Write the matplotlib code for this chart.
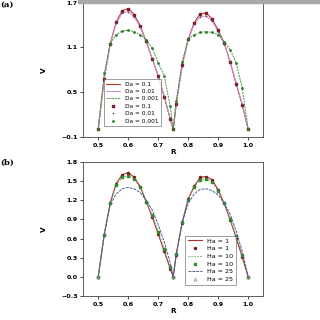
import matplotlib.pyplot as plt
import matplotlib.patches as mpatches

R = [0.50, 0.52, 0.54, 0.56, 0.58, 0.60, 0.62, 0.64, 0.66, 0.68, 0.70, 0.72, 0.74, 0.75,
     0.76, 0.78, 0.80, 0.82, 0.84, 0.86, 0.88, 0.90, 0.92, 0.94, 0.96, 0.98, 1.00]

# (a) Darcy number
v_da01 = [0.0, 0.68, 1.15, 1.44, 1.59, 1.62, 1.54, 1.39, 1.18, 0.95, 0.72, 0.44, 0.14, 0.0,
          0.34, 0.86, 1.21, 1.43, 1.55, 1.56, 1.48, 1.33, 1.16, 0.90, 0.61, 0.33, 0.0]
v_da001 = [0.0, 0.68, 1.14, 1.42, 1.56, 1.58, 1.51, 1.37, 1.17, 0.95, 0.72, 0.45, 0.15, 0.0,
           0.34, 0.85, 1.20, 1.41, 1.51, 1.52, 1.45, 1.31, 1.15, 0.90, 0.62, 0.34, 0.0]
v_da0001 = [0.0, 0.75, 1.15, 1.27, 1.32, 1.33, 1.31, 1.27, 1.20, 1.09, 0.89, 0.72, 0.31, 0.0,
            0.38, 0.91, 1.21, 1.27, 1.30, 1.31, 1.30, 1.27, 1.17, 1.07, 0.89, 0.56, 0.0]

# (b) Hartmann number
v_ha1 = [0.0, 0.65, 1.16, 1.46, 1.60, 1.63, 1.56, 1.41, 1.18, 0.94, 0.67, 0.40, 0.13, 0.0,
         0.34, 0.85, 1.22, 1.42, 1.56, 1.57, 1.52, 1.36, 1.15, 0.89, 0.61, 0.31, 0.0]
v_ha10 = [0.0, 0.66, 1.15, 1.44, 1.56, 1.58, 1.53, 1.40, 1.18, 0.97, 0.71, 0.44, 0.15, 0.0,
          0.35, 0.86, 1.21, 1.41, 1.52, 1.53, 1.49, 1.34, 1.15, 0.91, 0.64, 0.34, 0.0]
v_ha25 = [0.0, 0.67, 1.13, 1.30, 1.38, 1.40, 1.38, 1.32, 1.20, 1.05, 0.82, 0.55, 0.22, 0.0,
          0.36, 0.85, 1.15, 1.30, 1.37, 1.38, 1.35, 1.28, 1.15, 0.98, 0.72, 0.40, 0.0]

fig = plt.figure(figsize=(3.2, 3.2), dpi=100)
band = mpatches.Rectangle((0.245, 0.99), 0.755, 0.01, transform=fig.transFigure,
                          color='#a8a8a8', zorder=10)
fig.add_artist(band)

fs = 4.6
ax1 = fig.add_axes([0.26, 0.572, 0.5625, 0.42])
ax1.plot(R, v_da01, '-', color='#c0392b', lw=0.8, label='Da = 0.1')
ax1.plot(R, v_da001, '-', color='#c58fd0', lw=0.7, label='Da = 0.01')
ax1.plot(R, v_da0001, '--', color='#3a9a3a', lw=0.7, dashes=(2, 1), label='Da = 0.001')
ax1.plot(R, v_da01, 's', color='#7a1a2a', ms=1.6, ls='none', label='Da = 0.1')
ax1.plot(R, v_da001, '+', color='#6a4a6a', ms=1.8, mew=0.5, ls='none', label='Da = 0.01')
ax1.plot(R, v_da0001, 'o', color='#2e7d32', ms=1.0, ls='none', label='Da = 0.001')
ax1.set_xlim(0.45, 1.05)
ax1.set_ylim(-0.1, 1.7)
ax1.set_yticks([-0.1, 0.5, 1.1, 1.7])
ax1.set_xticks([0.5, 0.6, 0.7, 0.8, 0.9, 1.0])
ax1.set_xlabel('R', fontsize=fs + 0.6, fontweight='bold', labelpad=1)
ax1.set_ylabel('V', fontsize=fs + 0.6, fontweight='bold', labelpad=10)
ax1.legend(loc='lower left', bbox_to_anchor=(0.1, 0.06), fontsize=fs - 0.4, frameon=True,
           fancybox=False, edgecolor='#555555', handlelength=2.4, labelspacing=0.4,
           borderpad=0.4).get_frame().set_linewidth(0.5)
fig.text(0.0, 0.985, '(a)', fontsize=fs + 1.5, fontweight='bold', family='serif', va='center')

ax2 = fig.add_axes([0.26, 0.075, 0.5625, 0.419])
ax2.plot(R, v_ha1, '-', color='#b03030', lw=0.8, label='Ha = 1')
ax2.plot(R, v_ha1, 'o', color='#7a1a1a', ms=1.5, ls='none', label='Ha = 1')
ax2.plot(R, v_ha10, ':', color='#3a9a3a', lw=0.8, label='Ha = 10')
ax2.plot(R, v_ha10, 's', color='#2e8b2e', ms=1.7, ls='none', label='Ha = 10')
ax2.plot(R, v_ha25, '--', color='#5060a0', lw=0.7, dashes=(3, 1), label='Ha = 25')
ax2.plot(R[::13], v_ha25[::13], '^', mfc='none', mec='#909090', mew=0.5, ms=2.2,
         ls='none', label='Ha = 25')
ax2.set_xlim(0.45, 1.05)
ax2.set_ylim(-0.3, 1.8)
ax2.set_yticks([-0.3, 0.0, 0.3, 0.6, 0.9, 1.2, 1.5, 1.8])
ax2.set_xticks([0.5, 0.6, 0.7, 0.8, 0.9, 1.0])
ax2.set_xlabel('R', fontsize=fs + 0.6, fontweight='bold', labelpad=1)
ax2.set_ylabel('V', fontsize=fs + 0.6, fontweight='bold', labelpad=10)
ax2.legend(loc='lower left', bbox_to_anchor=(0.55, 0.06), fontsize=fs, frameon=True,
           fancybox=False, edgecolor='#555555', handlelength=2.2, labelspacing=0.35,
           borderpad=0.4).get_frame().set_linewidth(0.5)
fig.text(0.0, 0.492, '(b)', fontsize=fs + 1.5, fontweight='bold', family='serif', va='center')

for ax in (ax1, ax2):
    ax.tick_params(labelsize=fs, width=0.5, length=2, pad=2)
    for lab in ax.get_xticklabels() + ax.get_yticklabels():
        lab.set_fontweight('bold')
    for s in ax.spines.values():
        s.set_linewidth(0.6)
        s.set_color('#444444')

fig.savefig('out.png', dpi=100)
